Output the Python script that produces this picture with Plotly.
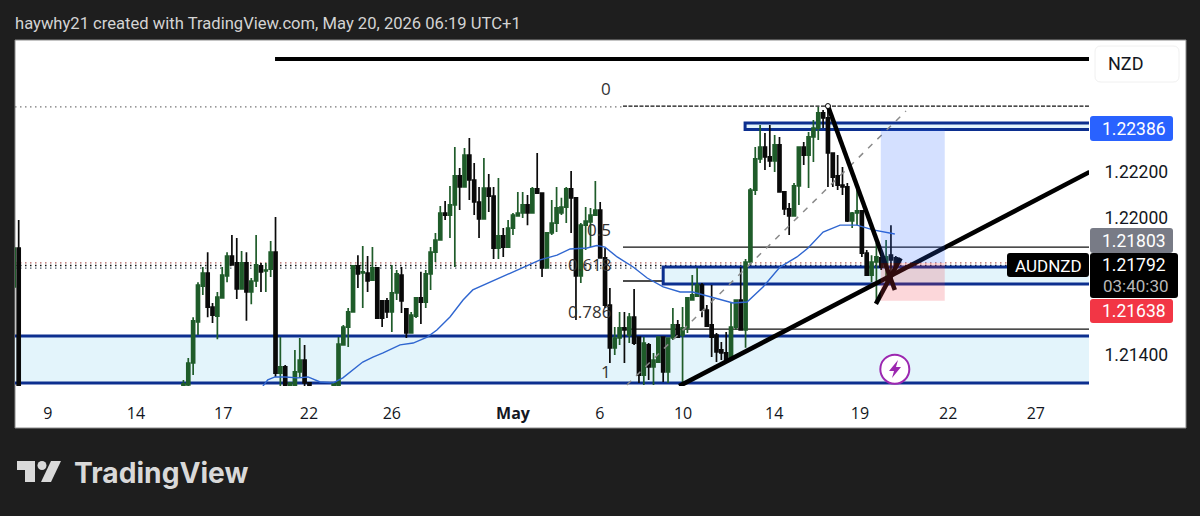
import plotly.graph_objects as go

# ---- candles: values in 1e-5 price units ----
bar_index = [-36, -35, -1] + list(range(0, 26)) + list(range(30, 147))
direction = (
    "GBG"
    "GGGGBBGGGBBGBGGBGGBGBGGGBB"
    "GGGGGBGBGBBBGGBBGGBG"
    "GGGBGGBGBBBGBBGBGGGG"
    "BGBBGGGGGBBGGGGBBBGG"
    "BGBBGBGGBGGBGGGGBBBB"
    "BBGGBGGGGBBGBBBGGBGG"
    "GBBBBBBGGBBGGBGBB"
)
highs = [121868, 121990, 121292,
    121388,121566,121719,121785,121850,121628,121676,121785,121850,121925,
    121912,121855,121850,121737,121925,121803,121803,121899,122003,121479,
    121357,121283,121423,121475,121445,121283,
    121283,121479,121532,121606,121790,121837,121877,121833,121872,121785,
    121641,121650,121794,121772,121785,121606,121589,121654,121764,121772,
    121872,121934,122052,122073,122139,122309,122217,122305,122349,122239,
    122135,122261,122191,122135,122174,121955,121990,122021,122113,122113,
    122100,122135,122283,122108,121938,122078,122135,122087,122135,122204,
    122091,121977,122047,122043,122161,122069,121868,121693,121523,121589,
    121589,121584,121689,121479,121479,121453,121410,121479,121479,121475,
    121606,121554,121610,121654,121750,121781,121715,121619,121706,121497,
    121458,121501,121628,121641,121785,121820,122130,122309,122405,122370,
    122405,122362,122353,122113,122065,122152,122309,122331,122375,122427,
    122484,122471,122484,122283,122274,122222,122152,122025,122121,122030,
    121859,121837,121890,121829,121903,121968,121833]
body_tops = [121868, 121868, 121275,
    121366,121550,121706,121759,121759,121610,121654,121750,121833,121833,
    121803,121803,121803,121724,121794,121790,121772,121850,121850,121349,
    121349,121279,121327,121379,121379,121279,
    121275,121449,121523,121589,121790,121790,121764,121759,121781,121781,
    121637,121637,121672,121755,121750,121602,121575,121650,121650,121755,
    121850,121903,122021,122021,122056,122183,122183,122274,122274,122165,
    122069,122130,122130,122095,121921,121921,121955,122012,122021,122056,
    122056,122126,122126,122108,121934,121977,122043,122047,122126,122126,
    122087,121968,121986,122012,122034,122034,121825,121619,121475,121519,
    121519,121566,121566,121479,121453,121445,121379,121479,121479,121475,
    121532,121532,121519,121650,121663,121706,121706,121597,121532,121488,
    121423,121410,121523,121641,121641,121807,122121,122257,122309,122309,
    122266,122318,122318,122113,122039,122139,122309,122309,122353,122392,
    122458,122458,122436,122283,122183,122143,122135,122021,122030,122030,
    121846,121807,121829,121825,121829,121837,121825]
body_bottoms = [121698, 121248, 121261,
    121270,121366,121545,121702,121610,121575,121571,121650,121746,121794,
    121689,121689,121676,121676,121724,121764,121768,121776,121322,121322,
    121248,121261,121261,121327,121279,121261,
    121257,121261,121445,121523,121589,121755,121759,121724,121728,121562,
    121562,121589,121589,121672,121637,121497,121497,121571,121632,121632,
    121755,121850,121903,122012,122012,122056,122135,122135,122165,122069,
    121995,121995,122095,121868,121868,121872,121872,121955,122008,122021,
    122021,122021,122108,121781,121781,121934,121977,122021,122047,122087,
    121746,121746,121968,121982,122012,121825,121619,121432,121432,121475,
    121510,121488,121453,121313,121313,121349,121349,121370,121327,121327,
    121475,121479,121488,121519,121641,121658,121597,121527,121479,121414,
    121410,121379,121388,121523,121510,121510,121807,122121,122257,122266,
    122248,122248,122113,122039,122008,122008,122139,122274,122274,122353,
    122392,122436,122283,122178,122143,122135,121986,121986,122021,121846,
    121750,121750,121807,121785,121785,121816,121792]
lows = [121685, 121200, 121257,
    121261,121313,121488,121663,121566,121541,121470,121650,121719,121794,
    121645,121689,121550,121623,121698,121676,121676,121741,121305,121261,
    121248,121261,121261,121301,121261,121261,
    121257,121261,121445,121436,121589,121693,121606,121676,121728,121562,
    121523,121562,121501,121641,121584,121475,121497,121562,121536,121606,
    121685,121807,121903,121990,121912,121785,122034,122135,122078,122012,
    121912,121995,122025,121820,121820,121829,121872,121925,122008,121999,
    121968,122021,122108,121741,121781,121925,121938,122012,121977,121934,
    121554,121715,121859,121872,122012,121825,121606,121366,121401,121445,
    121366,121453,121445,121279,121270,121292,121270,121366,121283,121279,
    121466,121479,121279,121497,121641,121654,121566,121523,121392,121370,
    121379,121379,121379,121510,121510,121432,121794,122100,122239,122209,
    122222,122200,122113,122012,121925,122008,122056,122231,122130,122244,
    122340,122392,122135,122135,122121,122100,121982,121955,121968,121829,
    121750,121719,121628,121772,121693,121728,121772]
assert len(bar_index) == len(direction) == len(highs) == len(body_tops) == len(body_bottoms) == len(lows), \
    (len(bar_index), len(direction), len(highs), len(body_tops), len(body_bottoms), len(lows))

# ---- moving average ----
ma_index = [15.4,16.4,17.9,20,22.6,24.7,27.2,29.9,31.9,34,36,38.1,40.2,43.7,46.4,49.3,51.3,54,
            56.7,58.7,62.3,66.4,69.9,72.6,76.1,78.8,82.3,84.3,86,88.5,91.8,94.7,98,101.5,104.1,
            108.3,112.4,115.3,118.6,122.1,125.6,127.9,131,134.5,138,141.3,145.8]
ma_values = [121265,121292,121305,121305,121301,121305,121283,121279,121301,121335,121370,121392,
             121410,121445,121453,121479,121510,121567,121641,121685,121719,121759,121794,121816,
             121837,121864,121868,121879,121872,121829,121785,121737,121698,121676,121676,121650,
             121628,121632,121698,121785,121829,121868,121938,121968,121968,121947,121929]

# ---- levels and drawings (prices; x in bar index) ----
TOP_LINE = 1.22693
FIB_0, FIB_HALF, FIB_618, FIB_786, FIB_1 = 1.22488, 1.21872, 1.21724, 1.21514, 1.21279
DOT_RED, DOT_BLACK, DOT_GREY, DOT_TOP = 1.21803, 1.21792, 1.21780, 1.22484
ZONE_LOW, ZONE_HIGH = 1.21279, 1.21484
BOX_A = (114.9, 1.22386, 1.22414)
BOX_B = (98.0, 1.21711, 1.21785)
LONG_X = (142.9, 156.1)
LONG_TARGET, LONG_ENTRY, LONG_STOP = 1.22386, 1.21803, 1.21638
FIB_DIAG = ([90.5, 148.1], [1.21270, 1.22466])
TREND_UP = ([101.3, 186], [1.21265, 1.22200])
TREND_DOWN = ([132, 145.8], [1.22488, 1.21685])
TREND_SHORT = ([141.9, 147], [1.21624, 1.21824])
X_MIN, X_MAX = -35.76, 185.87
Y_MIN, Y_MAX = 1.212655, 1.227764
FIB_X0 = 89.7
TOP_X0 = 17.9

tick_pos = [-29, -10.8, 7.2, 24.9, 42, 67, 84.9, 102.1, 120.9, 138.6, 156.8, 174.9]
tick_text = ["9", "14", "17", "22", "26", "<b>May</b>", "6", "10", "14", "19", "22", "27"]
price_ticks = [1.214, 1.220, 1.222]
price_text = ["1.21400", "1.22000", "1.22200"]
fib_labels = ["0", "0.5", "0.618", "0.786", "1"]
fib_label_y = [1.22565, 1.21947, 1.21794, 1.21589, 1.21327]

GREEN, BLACK, NAVY = "#1f5c2a", "#0a0a0a", "#0c2f8f"
DARK = "#1e1e1e"

# ---- pixel helpers only for the page furniture (panel, tags, logo) ----
L, R, T, B = 15, 1089, 40, 386
def px(x): return (x - L) / (R - L)
def py(y): return 1 - (y - T) / (B - T)

def round_rect(x0, y0, x1, y1, r=3):
    a, b, c, d = px(x0), px(x1), py(y0), py(y1)
    rx, ry = r / (R - L), r / (B - T)
    return (f"M{a+rx},{c} L{b-rx},{c} Q{b},{c} {b},{c-ry} L{b},{d+ry} Q{b},{d} {b-rx},{d} "
            f"L{a+rx},{d} Q{a},{d} {a},{d+ry} L{a},{c-ry} Q{a},{c} {a+rx},{c} Z")

opens = [(b if d == "G" else t) / 1e5 for t, b, d in zip(body_tops, body_bottoms, direction)]
closes = [(t if d == "G" else b) / 1e5 for t, b, d in zip(body_tops, body_bottoms, direction)]
h = [v / 1e5 for v in highs]
l = [v / 1e5 for v in lows]

fig = go.Figure()
fig.add_trace(go.Scatter(x=ma_index, y=[v / 1e5 for v in ma_values], mode="lines",
                         line=dict(color="#2f66d0", width=1.4), hoverinfo="skip"))
fig.add_trace(go.Candlestick(x=bar_index, open=opens, high=h, low=l, close=closes,
                             whiskerwidth=0,
                             increasing=dict(line=dict(color=GREEN, width=1.7), fillcolor=GREEN),
                             decreasing=dict(line=dict(color=BLACK, width=1.7), fillcolor=BLACK)))
for xs, ys, c, w, dash in [
    (FIB_DIAG[0], FIB_DIAG[1], "#8a8a8a", 1.5, "6px,7px"),
    ([TOP_X0, X_MAX], [TOP_LINE, TOP_LINE], "#000000", 4, "solid"),
    (TREND_UP[0], TREND_UP[1], "#000000", 4.5, "solid"),
    (TREND_DOWN[0], TREND_DOWN[1], "#000000", 4.5, "solid"),
    (TREND_SHORT[0], TREND_SHORT[1], "#000000", 4.5, "solid"),
]:
    fig.add_trace(go.Scatter(x=xs, y=ys, mode="lines", line=dict(color=c, width=w, dash=dash),
                             hoverinfo="skip"))
fig.add_trace(go.Scatter(x=TREND_DOWN[0][:1], y=TREND_DOWN[1][:1], mode="markers",
                         marker=dict(size=5, color="white", line=dict(color="black", width=1)),
                         hoverinfo="skip"))
fig.add_trace(go.Scatter(x=[145.8], y=[1.21339], mode="markers",
                         marker=dict(size=29, color="white", line=dict(color="#9c27b0", width=2)),
                         hoverinfo="skip"))

shapes = []
def hline(x0, x1, y, color, width, dash="solid", layer="below"):
    shapes.append(dict(type="line", xref="x", yref="y", x0=x0, x1=x1, y0=y, y1=y, layer=layer,
                       line=dict(color=color, width=width, dash=dash)))
def box(x0, x1, y0, y1, fill, line=None, width=0, layer="below"):
    shapes.append(dict(type="rect", xref="x", yref="y", x0=x0, x1=x1, y0=y0, y1=y1, layer=layer,
                       fillcolor=fill, line=dict(color=line or "rgba(0,0,0,0)", width=width)))
def panel(path, fill, line=None, width=0, layer="above"):
    shapes.append(dict(type="path", xref="paper", yref="paper", path=path, fillcolor=fill, layer=layer,
                       line=dict(color=line or "rgba(0,0,0,0)", width=width)))

# white chart panel
shapes.append(dict(type="rect", xref="paper", yref="paper", x0=px(15), x1=px(1186), y0=py(428), y1=py(40),
                   fillcolor="white", line=dict(color="#8a8a8a", width=1), layer="below"))
hline(X_MIN, FIB_X0, DOT_TOP, "#777777", 1.3, "1.5px,3.5px")
hline(X_MIN, X_MAX, DOT_RED, "#b5605f", 1.3, "1.5px,3.5px")
hline(X_MIN, X_MAX, DOT_BLACK, "#111111", 1.5, "1.5px,3.5px")
hline(X_MIN, X_MAX, DOT_GREY, "#55606e", 1.3, "1.5px,3.5px")
hline(FIB_X0, X_MAX, FIB_0, "#111111", 1.2, "4px,1.5px")
for lvl in (FIB_HALF, FIB_618, FIB_786):
    hline(FIB_X0, X_MAX, lvl, "#111111", 1.3)
box(X_MIN, X_MAX, ZONE_LOW, ZONE_HIGH, "#e3f4fb")
hline(X_MIN, X_MAX, ZONE_LOW, NAVY, 3)
hline(X_MIN, X_MAX, ZONE_HIGH, NAVY, 3)
box(BOX_A[0], X_MAX + 5, BOX_A[1], BOX_A[2], "#e3f4fb", NAVY, 3)
box(BOX_B[0], X_MAX + 5, BOX_B[1], BOX_B[2], "#e3f4fb", NAVY, 3)
box(LONG_X[0], LONG_X[1], LONG_ENTRY, LONG_TARGET, "rgba(41,98,255,0.2)", layer="above")
box(LONG_X[0], LONG_X[1], LONG_STOP, LONG_ENTRY, "rgba(242,54,69,0.2)", layer="above")

# price-scale tags
panel(round_rect(1095, 46, 1179, 82, 6), "white", "#f0f0f0", 1)
panel(round_rect(1090, 116, 1173, 141), "#2962ff")
panel(round_rect(1090, 228, 1173, 253), "#787b86")
panel(round_rect(1007, 253, 1089, 277), "#000000")
panel(round_rect(1090, 253, 1178, 298), "#000000")
panel(round_rect(1090, 299, 1173, 323), "#f23645")

# logo and lightning icon
def poly(pts):
    return "M" + " L".join(f"{px(a)},{py(b)}" for a, b in pts) + " Z"
panel(poly([(17, 461), (35, 461), (35, 482), (25, 482), (25, 470), (17, 470)]), "#d9d9d9")
panel(poly([(61, 461), (51, 482), (41, 482), (51, 461)]), "#d9d9d9")
shapes.append(dict(type="circle", xref="paper", yref="paper", x0=px(37.5), x1=px(46.5), y0=py(470), y1=py(461),
                   fillcolor="#d9d9d9", line=dict(width=0), layer="above"))
panel(poly([(898, 360), (889, 371), (894, 371), (892, 378), (901, 367), (896, 367)]), "#9c27b0")

ann = []
def text(x, y, s, size, color, anchor="center", font="Roboto"):
    ann.append(dict(xref="paper", yref="paper", x=px(x), y=py(y), text=s, showarrow=False, xanchor=anchor,
                    yanchor="middle", font=dict(size=size, color=color, family=font)))
text(13, 23, "haywhy21 created with TradingView.com, May 20, 2026 06:19 UTC+1", 16.6, "#d4d4d4", "left")
text(1125, 64, "NZD", 18, "#131722")
text(1134, 129, "1.22386", 17.5, "white")
text(1134, 241, "1.21803", 17.5, "white")
text(1048, 266, "AUDNZD", 17, "white")
text(1134, 265, "1.21792", 17.5, "white")
text(1136, 286, "03:40:30", 17, "#b8b8b8")
text(1134, 311, "1.21638", 17.5, "white")
text(72, 473, "<b>TradingView</b>", 28.2, "#d9d9d9", "left", "Inter")
for lab, yv in zip(fib_labels, fib_label_y):
    ann.append(dict(xref="x", yref="y", x=87.6, y=yv, text=lab, showarrow=False, xanchor="right",
                    yanchor="middle", font=dict(size=17, color="#333333", family="Open Sans")))

fig.update_layout(
    width=1200, height=516, showlegend=False, boxgap=0.12,
    margin=dict(l=L, r=1200 - R, t=T, b=516 - B),
    paper_bgcolor=DARK, plot_bgcolor="white",
    shapes=shapes, annotations=ann,
    xaxis=dict(range=[X_MIN, X_MAX], rangeslider=dict(visible=False), showgrid=False, zeroline=False,
               tickmode="array", tickvals=tick_pos, ticktext=tick_text, ticks="outside", ticklen=13,
               tickcolor="rgba(0,0,0,0)", tickfont=dict(size=16, color="#131722", family="Open Sans")),
    yaxis=dict(range=[Y_MIN, Y_MAX], side="right", showgrid=False, zeroline=False,
               tickmode="array", tickvals=price_ticks, ticktext=price_text, ticks="outside", ticklen=11,
               tickcolor="rgba(0,0,0,0)", tickfont=dict(size=17.5, color="#131722", family="Roboto")),
)
fig.write_html("out.html", config=dict(displayModeBar=False),
               post_script="document.body.style.margin='0';document.body.style.background='#1e1e1e';")
